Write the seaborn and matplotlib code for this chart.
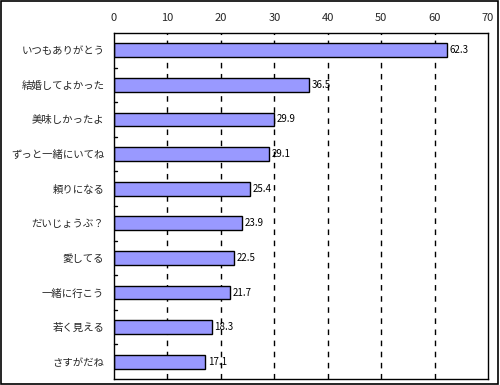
import matplotlib
matplotlib.use("Agg")
import matplotlib.pyplot as plt
import seaborn as sns
import pandas as pd

categories = ["いつもありがとう", "結婚してよかった", "美味しかったよ", "ずっと一緒にいてね",
              "頼りになる", "だいじょうぶ？", "愛してる", "一緒に行こう", "若く見える", "さすがだね"]
values = [62.3, 36.5, 29.9, 29.1, 25.4, 23.9, 22.5, 21.7, 18.3, 17.1]
xticks = [0, 10, 20, 30, 40, 50, 60, 70]

sns.set_theme(style="white")
plt.rcParams['font.family'] = ['Noto Sans CJK JP', 'DejaVu Sans']

df = pd.DataFrame({"cat": categories, "val": values})

fig = plt.figure(figsize=(5, 3.85), dpi=100)
ax = fig.add_axes([114/500, 1 - 379/385, (488-114)/500, (379-33)/385])

sns.barplot(data=df, x="val", y="cat", orient="h", color="#9999FF", saturation=1,
            edgecolor="black", linewidth=1.0, width=0.4, ax=ax, zorder=2)

ax.set_xlim(0, 70)
ax.set_ylim(len(categories) - 0.5, -0.5)
ax.set_xticks(xticks)
ax.set_xticklabels([str(t) for t in xticks], fontsize=8)
ax.xaxis.tick_top()
ax.tick_params(axis="x", length=0, pad=7)
ax.set_xlabel("")
ax.set_ylabel("")

ax.set_yticks(range(len(categories)))
ax.set_yticklabels(categories, fontsize=7.5)
ax.tick_params(axis="y", length=0, pad=7)
for b in range(1, len(categories)):
    ax.plot([0, 0.6], [b - 0.5, b - 0.5], color="black", lw=1, clip_on=False, zorder=3)

for x in xticks[1:-1]:
    ax.axvline(x, color="black", lw=1, ls=(0, (4, 4)), zorder=0.5)

for s in ax.spines.values():
    s.set_visible(True)
    s.set_color("black")
    s.set_linewidth(1)

for i, v in enumerate(values):
    ax.text(v + 0.5, i, f"{v}", va="center", ha="left", fontsize=7, color="black", zorder=4)

fig.patches.append(plt.Rectangle((0.002, 0.003), 0.994, 0.994, transform=fig.transFigure,
                                 fill=False, edgecolor="black", lw=1.2))

fig.savefig("out.png", dpi=100)
